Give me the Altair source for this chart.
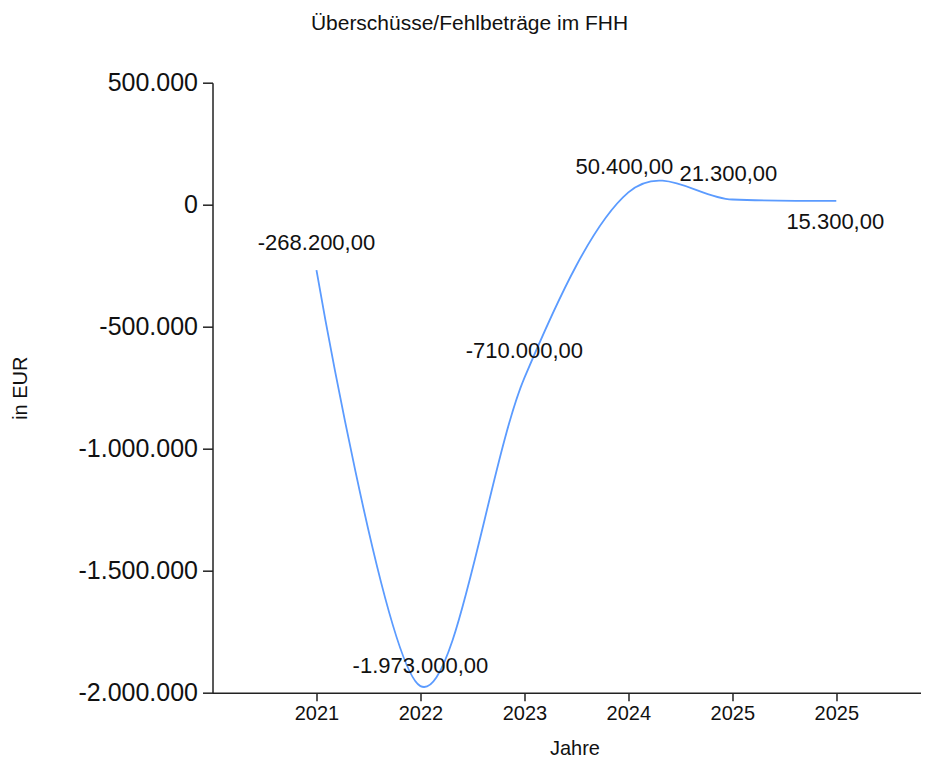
import altair as alt
import pandas as pd

years = ["2021", "2022", "2023", "2024", "2025", "2025"]
values = [-268200, -1973000, -710000, 50400, 21300, 15300]


def de_fmt(v):
    s = f"{v:,.2f}"
    return s.replace(",", "#").replace(".", ",").replace("#", ".")


df = pd.DataFrame({
    "idx": list(range(1, len(years) + 1)),
    "year": years,
    "value": values,
    "label": [de_fmt(v) for v in values],
})

FONT = "Liberation Sans"
year_arr = "[" + ",".join(f"'{y}'" for y in years) + "]"

x_enc = alt.X(
    "idx:Q",
    scale=alt.Scale(domain=[0, 6.81], nice=False, zero=False),
    axis=alt.Axis(
        title="Jahre",
        values=list(range(1, len(years) + 1)),
        labelExpr=f"{year_arr}[datum.value - 1]",
        grid=False,
        tickSize=8,
        labelPadding=3,
        labelFontSize=20,
        labelFont=FONT,
        labelColor="#111",
        titleFontSize=20,
        titleFont=FONT,
        titleFontWeight="normal",
        titleColor="#111",
        titleX=362,
        titleY=56,
        titleBaseline="middle",
        titleAlign="center",
        domainColor="#222",
        tickColor="#222",
        domainWidth=1.5,
        tickWidth=1.5,
    ),
)

y_enc = alt.Y(
    "value:Q",
    scale=alt.Scale(domain=[-2000000, 500000], nice=False, zero=False),
    axis=alt.Axis(
        title="in EUR",
        values=[500000, 0, -500000, -1000000, -1500000, -2000000],
        labelExpr="replace(replace(format(datum.value, ','), regexp(',', 'g'), '.'), '\u2212', '-')",
        grid=False,
        tickSize=10,
        labelPadding=5,
        labelFontSize=25,
        labelFont=FONT,
        labelColor="#111",
        titleFontSize=20,
        titleFont=FONT,
        titleFontWeight="normal",
        titleColor="#111",
        titleAngle=270,
        titleX=-192,
        titleY=305,
        titleBaseline="middle",
        titleAlign="center",
        domainColor="#222",
        tickColor="#222",
        domainWidth=1.5,
        tickWidth=1.5,
    ),
)

base = alt.Chart(df)

line = base.mark_line(
    interpolate="cardinal", color="#5b9bff", strokeWidth=1.8, clip=False
).encode(x=x_enc, y=y_enc)

txt_props = dict(font=FONT, fontSize=22, color="#111", baseline="middle", align="center")

labels_main = base.transform_filter("datum.idx == 1 || datum.idx == 3").mark_text(
    dy=-27, **txt_props
).encode(x="idx:Q", y="value:Q", text="label:N")
labels_low = base.transform_filter("datum.idx == 2").mark_text(dy=-20, **txt_props).encode(
    x="idx:Q", y="value:Q", text="label:N"
)
labels_mid = base.transform_filter("datum.idx == 4 || datum.idx == 5").mark_text(
    dy=-25, dx=-4, **txt_props
).encode(x="idx:Q", y="value:Q", text="label:N")
labels_last = base.transform_filter("datum.idx == 6").mark_text(dy=21, dx=-1, **txt_props).encode(
    x="idx:Q", y="value:Q", text="label:N"
)

chart = (
    alt.layer(line, labels_main, labels_low, labels_mid, labels_last)
    .properties(
        width=708,
        height=610,
        padding={"left": 204.5, "top": 74.7, "right": 0, "bottom": 68},
        autosize=alt.AutoSizeParams(type="none"),
        title=alt.TitleParams(
            "Überschüsse/Fehlbeträge im FHH",
            font=FONT,
            fontSize=21,
            fontWeight="normal",
            color="#111",
            anchor="middle",
            dx=-97,
            offset=37,
        ),
    )
    .configure(background="white")
    .configure_view(stroke=None)
)

chart.save("out.html", embed_options={"renderer": "svg", "actions": False})
